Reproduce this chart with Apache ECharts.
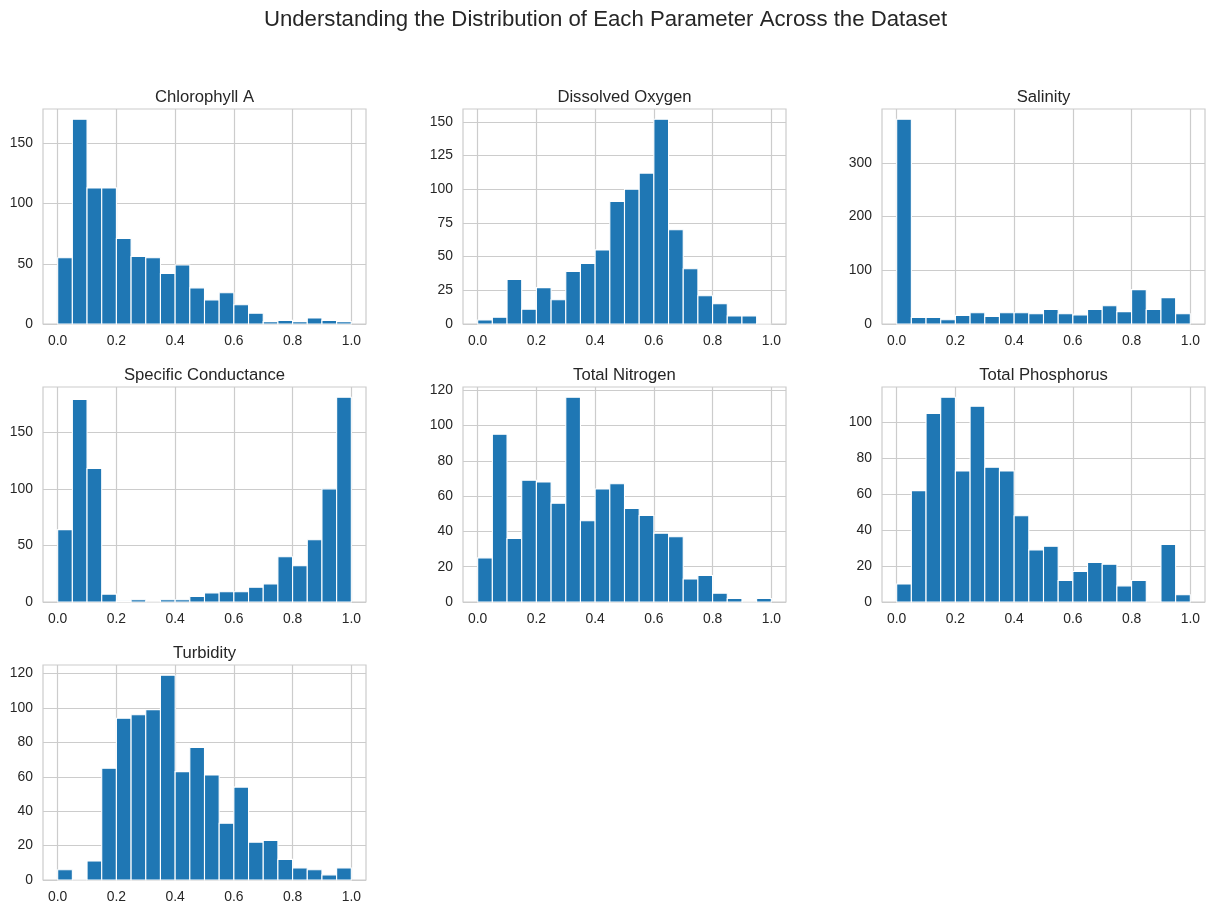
<!DOCTYPE html>
<html><head><meta charset="utf-8">
<style>html,body{margin:0;padding:0;background:#fff}#c{width:1215px;height:913px}</style>
<script src="https://cdn.jsdelivr.net/npm/echarts@6/dist/echarts.min.js"></script>
</head><body><div id="c"></div>
<script>
const suptitle = "Understanding the Distribution of Each Parameter Across the Dataset";
const xTicks = [0, 0.2, 0.4, 0.6, 0.8, 1.0];
const chlorophyllA = [55,170,113,113,71,56,55,42,49,30,20,26,16,9,2,3,2,5,3,2];
const dissolvedOxygen = [3,5,33,11,27,18,39,45,55,91,100,112,152,70,41,21,15,6,6,0];
const salinity = [381,12,12,8,16,21,14,21,21,19,27,19,17,27,34,23,64,27,49,19];
const specificConductance = [64,179,118,7,1,2,0,2,2,5,8,9,9,13,16,40,32,55,100,181];
const totalNitrogen = [25,95,36,69,68,56,116,46,64,67,53,49,39,37,13,15,5,2,0,2];
const totalPhosphorus = [10,62,105,114,73,109,75,73,48,29,31,12,17,22,21,9,12,0,32,4];
const turbidity = [6,0,11,65,94,96,99,119,63,77,61,33,54,22,23,12,7,6,3,7];
const titles = ["Chlorophyll A","Dissolved Oxygen","Salinity","Specific Conductance","Total Nitrogen","Total Phosphorus","Turbidity"];
const valueSets = [chlorophyllA,dissolvedOxygen,salinity,specificConductance,totalNitrogen,totalPhosphorus,turbidity];
const yTicks = [
  [0,50,100,150],
  [0,25,50,75,100,125,150],
  [0,100,200,300],
  [0,50,100,150],
  [0,20,40,60,80,100,120],
  [0,20,40,60,80,100],
  [0,20,40,60,80,100,120]
];
const BINS = 20;
const lefts = [43,463,882], tops = [109,387,665], W = 323, H = 215;
const font = '"Liberation Sans", Arial, sans-serif';
const option = {
  backgroundColor:'#fff', animation:false,
  title:[{text:suptitle,left:605.5,top:9,padding:0,textAlign:'center',textStyle:{fontFamily:font,fontSize:22.2,fontWeight:'normal',color:'#262626'}}],
  grid:[],xAxis:[],yAxis:[],series:[]
};
valueSets.forEach((vals,i)=>{
  const col=i%3,row=Math.floor(i/3),l=lefts[col],t=tops[row];
  option.title.push({text:titles[i],left:l+W/2,top:t-20,padding:0,textAlign:'center',textStyle:{fontFamily:font,fontSize:16.67,fontWeight:'normal',color:'#262626'}});
  option.grid.push({left:l,top:t,width:W,height:H,show:true,borderColor:'#cccccc',borderWidth:1.2,backgroundColor:'#fff',containLabel:false});
  const grid={show:true,lineStyle:{color:'#cccccc',width:1.2}};
  option.xAxis.push({type:'value',gridIndex:i,min:-0.05,max:1.05,
    axisLine:{show:false},
    axisTick:{show:false,customValues:xTicks},
    splitLine:grid,
    axisLabel:{customValues:xTicks,formatter:v=>v.toFixed(1),color:'#262626',fontFamily:font,fontSize:13.9,margin:10,hideOverlap:false}});
  option.yAxis.push({type:'value',gridIndex:i,min:0,max:Math.max(...vals)*1.05,
    axisLine:{show:false},
    axisTick:{show:false,customValues:yTicks[i]},
    splitLine:grid,
    axisLabel:{customValues:yTicks[i],color:'#262626',fontFamily:font,fontSize:13.9,margin:10,hideOverlap:false}});
  option.series.push({type:'custom',xAxisIndex:i,yAxisIndex:i,coordinateSystem:'cartesian2d',
    encode:{x:[0,1],y:2},
    data:vals.map((v,k)=>[k/BINS,(k+1)/BINS,v]),
    renderItem:(p,api)=>{
      const a=api.coord([api.value(0),api.value(2)]), b=api.coord([api.value(1),0]);
      return {type:'rect',shape:{x:a[0],y:a[1],width:b[0]-a[0],height:b[1]-a[1]},
        style:{fill:'#1f77b4',stroke:'#ffffff',lineWidth:1.1}};
    }});
});
echarts.init(document.getElementById('c'),null,{renderer:'canvas'}).setOption(option);
</script></body></html>
